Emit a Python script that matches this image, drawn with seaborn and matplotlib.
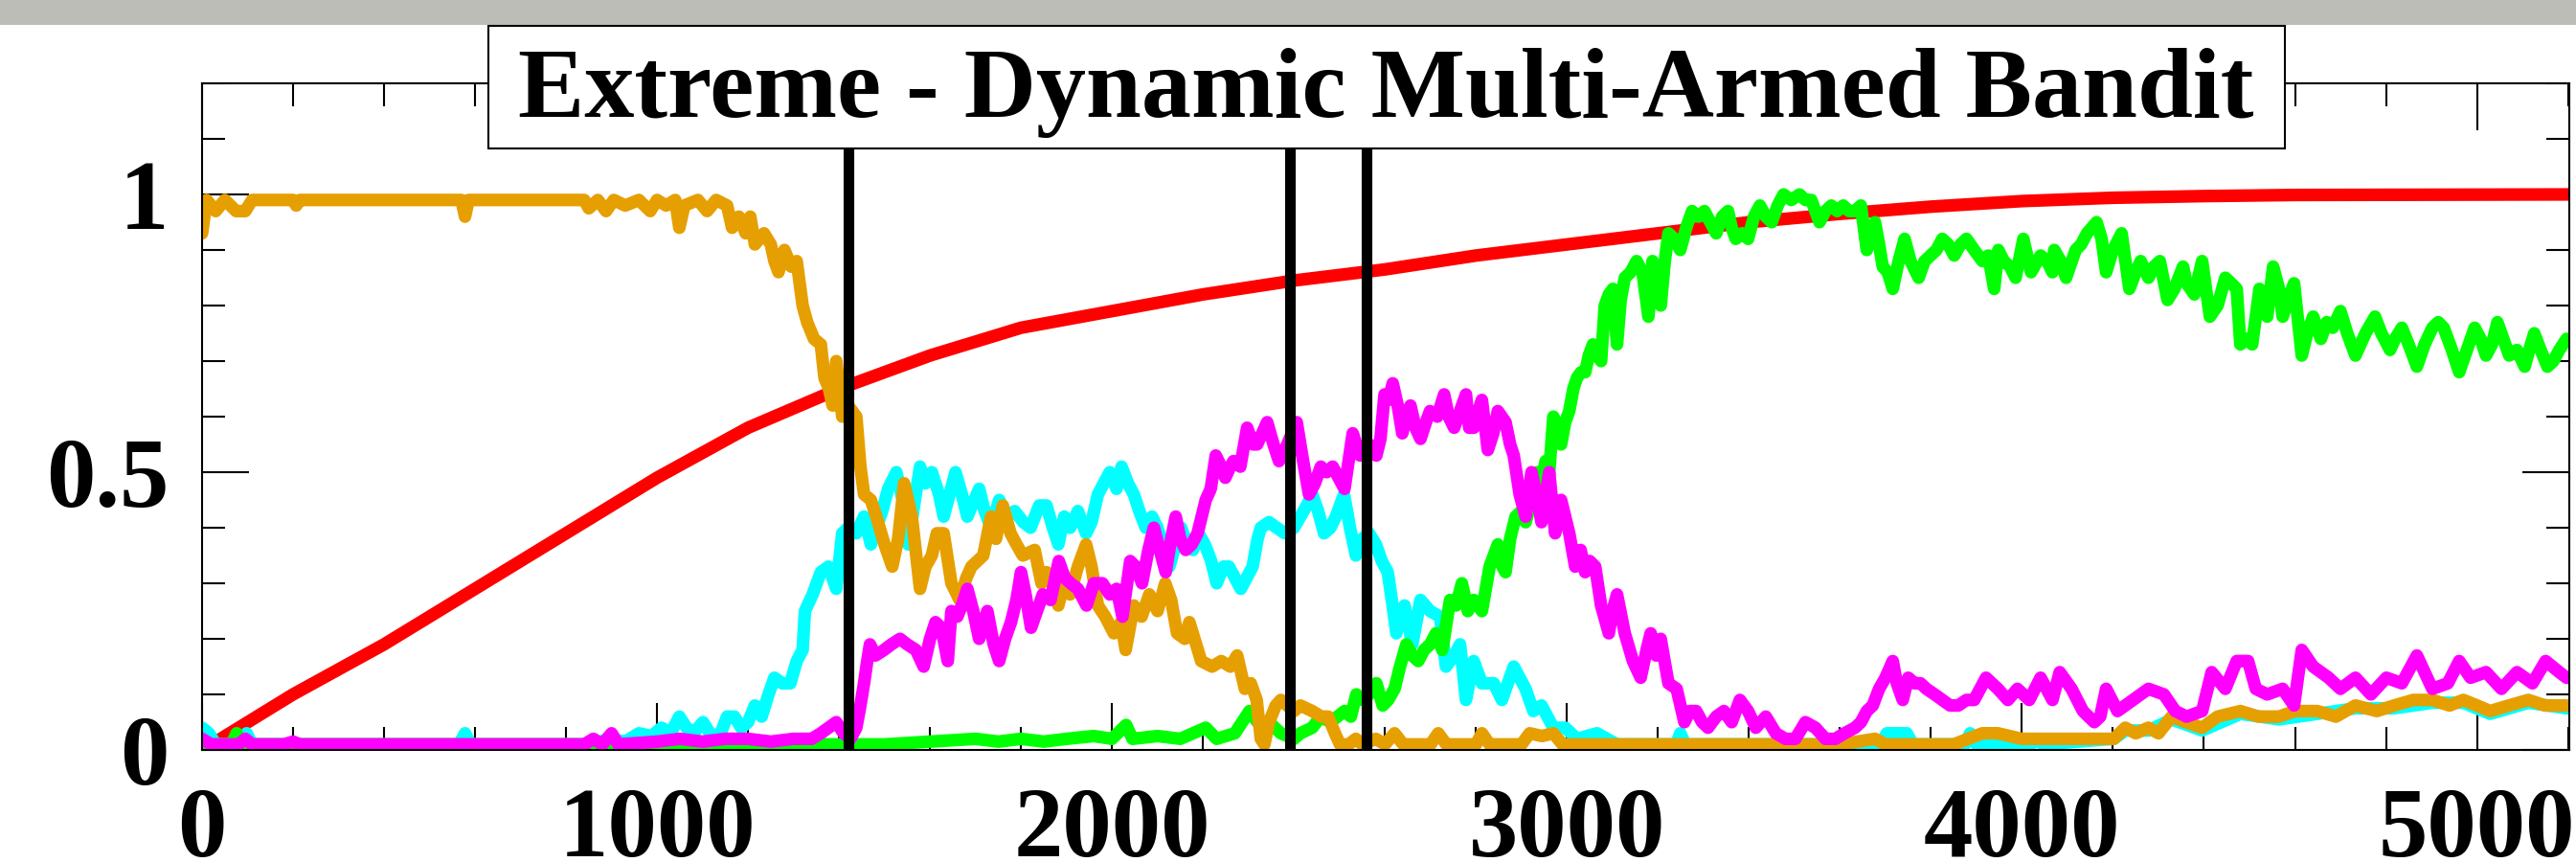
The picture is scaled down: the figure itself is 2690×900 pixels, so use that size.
import matplotlib
matplotlib.use("Agg")
import matplotlib.pyplot as plt
from matplotlib.patches import Rectangle
from matplotlib.ticker import MultipleLocator, FixedLocator, FixedFormatter
import pandas as pd
import seaborn as sns

# ---- values (step, value) ----
change_points = [1420, 2390, 2560]

red_pts = [(25, 0.012), (200, 0.10), (400, 0.19), (600, 0.29), (800, 0.39), (1000, 0.49),
           (1200, 0.58), (1400, 0.65), (1600, 0.71), (1800, 0.76), (2000, 0.79), (2200, 0.82),
           (2400, 0.845), (2600, 0.865), (2800, 0.89), (3000, 0.91), (3200, 0.93), (3400, 0.95),
           (3600, 0.965), (3800, 0.978), (4000, 0.988), (4200, 0.994), (4400, 0.997),
           (4600, 0.999), (5200, 1.0)]

orange_pts = [(0, 0.93), (10, 0.99), (30, 0.97), (50, 0.99), (75, 0.97), (95, 0.97), (110, 0.99),
              (200, 0.99), (207, 0.98), (215, 0.99), (570, 0.99), (578, 0.96), (586, 0.99),
              (840, 0.99), (850, 0.975), (870, 0.99), (888, 0.97), (905, 0.99), (930, 0.98),
              (960, 0.99), (985, 0.97), (1000, 0.99), (1020, 0.98), (1040, 0.99), (1049, 0.94),
              (1060, 0.98), (1090, 0.99), (1110, 0.97), (1130, 0.99), (1154, 0.98), (1165, 0.94),
              (1180, 0.96), (1195, 0.93), (1205, 0.96), (1215, 0.91), (1235, 0.93), (1250, 0.91),
              (1258, 0.88), (1267, 0.86), (1280, 0.90), (1295, 0.87), (1307, 0.88), (1320, 0.80),
              (1330, 0.77), (1345, 0.74), (1360, 0.73), (1368, 0.67), (1378, 0.65), (1386, 0.62),
              (1394, 0.70), (1407, 0.60), (1420, 0.62), (1438, 0.60), (1447, 0.51), (1455, 0.46),
              (1470, 0.45), (1482, 0.42), (1500, 0.37), (1517, 0.33), (1530, 0.38), (1543, 0.48),
              (1560, 0.42), (1578, 0.29), (1590, 0.33), (1604, 0.35), (1615, 0.39), (1630, 0.39),
              (1647, 0.30), (1665, 0.27), (1680, 0.31), (1691, 0.33), (1717, 0.35), (1734, 0.42),
              (1745, 0.38), (1760, 0.44), (1777, 0.39), (1790, 0.37), (1804, 0.35), (1830, 0.36),
              (1845, 0.30), (1856, 0.32), (1870, 0.30), (1882, 0.26), (1895, 0.30), (1908, 0.28),
              (1925, 0.33), (1943, 0.37), (1955, 0.33), (1969, 0.26), (1985, 0.24), (2004, 0.21),
              (2020, 0.23), (2030, 0.18), (2048, 0.26), (2065, 0.24), (2082, 0.28), (2100, 0.25),
              (2117, 0.30), (2130, 0.27), (2143, 0.21), (2160, 0.20), (2170, 0.23), (2185, 0.19),
              (2196, 0.16), (2220, 0.15), (2240, 0.16), (2260, 0.15), (2275, 0.17), (2292, 0.11),
              (2305, 0.12), (2318, 0.09), (2327, 0.02), (2335, 0.01), (2345, 0.05), (2360, 0.08),
              (2371, 0.09), (2385, 0.08), (2400, 0.07), (2414, 0.08), (2440, 0.07), (2460, 0.06),
              (2475, 0.06), (2490, 0.03), (2501, 0.01), (2520, 0.01), (2536, 0.02), (2550, 0.01),
              (2580, 0.02), (2600, 0.01), (2621, 0.03), (2640, 0.01), (2700, 0.01), (2717, 0.03),
              (2735, 0.01), (2800, 0.01), (2813, 0.03), (2830, 0.01), (2900, 0.01), (2918, 0.03),
              (2945, 0.025), (2970, 0.03), (2990, 0.01), (3600, 0.01), (3677, 0.02), (3700, 0.01),
              (3850, 0.01), (3913, 0.03), (3947, 0.03), (3999, 0.02), (4100, 0.02), (4202, 0.02),
              (4227, 0.04), (4250, 0.03), (4278, 0.04), (4300, 0.03), (4329, 0.06), (4360, 0.05),
              (4396, 0.04), (4430, 0.06), (4480, 0.07), (4520, 0.06), (4565, 0.06), (4600, 0.07),
              (4649, 0.07), (4690, 0.06), (4733, 0.08), (4780, 0.07), (4818, 0.08), (4860, 0.09),
              (4902, 0.09), (4940, 0.08), (4970, 0.09), (5000, 0.08), (5029, 0.07), (5070, 0.08),
              (5113, 0.09), (5150, 0.08), (5197, 0.08)]

cyan_pts = [(0, 0.04), (15, 0.03), (30, 0.01), (85, 0.01), (98, 0.03), (110, 0.01), (565, 0.01),
            (578, 0.03), (590, 0.01), (860, 0.01), (892, 0.02), (930, 0.015), (960, 0.03),
            (988, 0.025), (1010, 0.04), (1030, 0.03), (1049, 0.06), (1065, 0.04), (1080, 0.03),
            (1101, 0.05), (1120, 0.025), (1140, 0.03), (1154, 0.06), (1170, 0.06), (1185, 0.04),
            (1200, 0.05), (1215, 0.08), (1230, 0.06), (1245, 0.10), (1258, 0.13), (1275, 0.12),
            (1293, 0.12), (1307, 0.16), (1320, 0.18), (1325, 0.25), (1342, 0.28), (1360, 0.32),
            (1377, 0.33), (1394, 0.29), (1407, 0.39), (1420, 0.40), (1438, 0.39), (1455, 0.42),
            (1470, 0.37), (1482, 0.40), (1495, 0.43), (1508, 0.47), (1526, 0.50), (1540, 0.45),
            (1552, 0.37), (1565, 0.44), (1578, 0.51), (1590, 0.48), (1604, 0.50), (1620, 0.46),
            (1630, 0.42), (1656, 0.50), (1670, 0.46), (1682, 0.42), (1708, 0.47), (1720, 0.43),
            (1734, 0.40), (1752, 0.45), (1770, 0.42), (1786, 0.43), (1805, 0.41), (1821, 0.40),
            (1840, 0.44), (1856, 0.44), (1870, 0.40), (1882, 0.37), (1895, 0.42), (1908, 0.40),
            (1925, 0.43), (1943, 0.39), (1955, 0.41), (1969, 0.46), (1995, 0.50), (2010, 0.47),
            (2021, 0.51), (2035, 0.48), (2048, 0.46), (2060, 0.43), (2074, 0.40), (2088, 0.42),
            (2100, 0.40), (2115, 0.36), (2126, 0.33), (2140, 0.37), (2152, 0.40), (2165, 0.37),
            (2178, 0.36), (2190, 0.39), (2204, 0.37), (2218, 0.34), (2230, 0.30), (2245, 0.33),
            (2257, 0.33), (2270, 0.31), (2283, 0.29), (2296, 0.31), (2309, 0.33), (2320, 0.38),
            (2327, 0.40), (2345, 0.41), (2362, 0.40), (2380, 0.39), (2400, 0.40), (2414, 0.42),
            (2428, 0.44), (2440, 0.46), (2453, 0.43), (2466, 0.39), (2480, 0.40), (2492, 0.42),
            (2510, 0.46), (2523, 0.40), (2536, 0.35), (2550, 0.38), (2565, 0.39), (2580, 0.37),
            (2593, 0.34), (2606, 0.32), (2615, 0.27), (2625, 0.21), (2635, 0.25), (2643, 0.26),
            (2660, 0.19), (2678, 0.27), (2699, 0.25), (2721, 0.24), (2734, 0.15), (2752, 0.17),
            (2765, 0.19), (2778, 0.09), (2795, 0.16), (2813, 0.12), (2839, 0.12), (2857, 0.09),
            (2883, 0.15), (2909, 0.11), (2926, 0.07), (2944, 0.08), (2970, 0.04), (2996, 0.04),
            (3022, 0.02), (3066, 0.03), (3110, 0.01), (3240, 0.01), (3249, 0.03), (3260, 0.01),
            (3690, 0.01), (3703, 0.03), (3725, 0.03), (3747, 0.03), (3760, 0.01), (3875, 0.01),
            (3886, 0.03), (3900, 0.01), (4020, 0.01), (4032, 0.02), (4045, 0.01), (4202, 0.02),
            (4227, 0.035), (4278, 0.035), (4329, 0.055), (4396, 0.035), (4480, 0.065),
            (4565, 0.055), (4649, 0.065), (4733, 0.075), (4818, 0.075), (4902, 0.085),
            (4970, 0.085), (5029, 0.065), (5113, 0.085), (5197, 0.075)]

magenta_pts = [(0, 0.02), (20, 0.01), (80, 0.01), (95, 0.02), (110, 0.01), (180, 0.01), (200, 0.015),
               (215, 0.01), (840, 0.01), (860, 0.02), (880, 0.01), (900, 0.03), (915, 0.01),
               (1000, 0.015), (1050, 0.02), (1100, 0.015), (1150, 0.02), (1200, 0.02), (1250, 0.015),
               (1300, 0.02), (1340, 0.02), (1360, 0.03), (1377, 0.04), (1394, 0.05), (1410, 0.03),
               (1425, 0.02), (1438, 0.04), (1447, 0.08), (1455, 0.12), (1462, 0.16), (1468, 0.19),
               (1480, 0.17), (1499, 0.18), (1515, 0.19), (1534, 0.20), (1550, 0.19), (1569, 0.18),
               (1586, 0.15), (1600, 0.20), (1612, 0.23), (1625, 0.22), (1639, 0.16), (1647, 0.25),
               (1660, 0.24), (1670, 0.26), (1682, 0.29), (1695, 0.25), (1708, 0.20), (1726, 0.25),
               (1740, 0.19), (1752, 0.16), (1765, 0.20), (1778, 0.23), (1790, 0.27), (1800, 0.32),
               (1810, 0.28), (1822, 0.22), (1835, 0.25), (1848, 0.28), (1865, 0.27), (1883, 0.34),
               (1896, 0.31), (1909, 0.30), (1925, 0.29), (1944, 0.26), (1960, 0.30), (1979, 0.30),
               (1995, 0.28), (2010, 0.29), (2023, 0.24), (2040, 0.34), (2052, 0.33), (2066, 0.30),
               (2080, 0.36), (2092, 0.40), (2105, 0.36), (2118, 0.32), (2130, 0.38), (2140, 0.42),
               (2150, 0.38), (2162, 0.36), (2175, 0.37), (2188, 0.39), (2200, 0.43), (2206, 0.45),
               (2217, 0.47), (2228, 0.53), (2240, 0.51), (2249, 0.49), (2260, 0.51), (2267, 0.52),
               (2282, 0.51), (2297, 0.58), (2310, 0.55), (2319, 0.55), (2330, 0.57), (2341, 0.59),
               (2355, 0.55), (2367, 0.52), (2380, 0.54), (2406, 0.59), (2420, 0.52), (2433, 0.46),
               (2446, 0.48), (2459, 0.51), (2472, 0.50), (2485, 0.51), (2498, 0.49), (2511, 0.47),
               (2520, 0.52), (2529, 0.57), (2545, 0.53), (2565, 0.55), (2581, 0.53), (2590, 0.56),
               (2599, 0.64), (2608, 0.63), (2617, 0.66), (2628, 0.62), (2638, 0.57), (2647, 0.60),
               (2656, 0.62), (2667, 0.58), (2678, 0.56), (2690, 0.59), (2699, 0.61), (2715, 0.60),
               (2730, 0.64), (2740, 0.60), (2752, 0.58), (2765, 0.61), (2778, 0.64), (2785, 0.58),
               (2795, 0.58), (2805, 0.61), (2813, 0.63), (2826, 0.54), (2838, 0.57), (2848, 0.61),
               (2865, 0.59), (2875, 0.55), (2883, 0.53), (2896, 0.46), (2909, 0.42), (2922, 0.50),
               (2935, 0.45), (2944, 0.41), (2961, 0.50), (2974, 0.39), (2987, 0.45), (3005, 0.39),
               (3018, 0.33), (3030, 0.36), (3040, 0.32), (3050, 0.34), (3062, 0.33), (3075, 0.26),
               (3092, 0.21), (3100, 0.25), (3110, 0.28), (3127, 0.21), (3145, 0.16), (3162, 0.13),
               (3175, 0.18), (3184, 0.21), (3196, 0.17), (3206, 0.20), (3223, 0.12), (3241, 0.11),
               (3258, 0.05), (3270, 0.07), (3284, 0.07), (3297, 0.05), (3310, 0.04), (3328, 0.06),
               (3345, 0.07), (3362, 0.05), (3380, 0.09), (3398, 0.07), (3415, 0.04), (3437, 0.06),
               (3459, 0.03), (3480, 0.02), (3502, 0.02), (3524, 0.05), (3546, 0.04), (3568, 0.02),
               (3590, 0.02), (3610, 0.03), (3633, 0.04), (3646, 0.05), (3659, 0.07), (3672, 0.08),
               (3686, 0.11), (3700, 0.13), (3716, 0.16), (3725, 0.12), (3738, 0.09), (3750, 0.13),
               (3764, 0.12), (3777, 0.12), (3790, 0.11), (3808, 0.10), (3825, 0.09), (3842, 0.08),
               (3860, 0.08), (3878, 0.09), (3895, 0.09), (3908, 0.11), (3921, 0.13), (3934, 0.12),
               (3947, 0.11), (3969, 0.09), (3990, 0.11), (4016, 0.09), (4041, 0.13), (4067, 0.09),
               (4083, 0.14), (4109, 0.11), (4134, 0.07), (4159, 0.05), (4172, 0.06), (4185, 0.11),
               (4210, 0.07), (4244, 0.09), (4278, 0.11), (4312, 0.10), (4337, 0.07), (4362, 0.06),
               (4396, 0.07), (4417, 0.14), (4447, 0.11), (4472, 0.16), (4497, 0.16), (4514, 0.11),
               (4539, 0.10), (4573, 0.11), (4598, 0.08), (4615, 0.18), (4640, 0.15), (4674, 0.13),
               (4700, 0.11), (4733, 0.13), (4767, 0.10), (4801, 0.13), (4835, 0.12), (4868, 0.17),
               (4902, 0.11), (4936, 0.12), (4961, 0.16), (4986, 0.13), (5020, 0.14), (5054, 0.11),
               (5088, 0.14), (5122, 0.12), (5151, 0.16), (5181, 0.14), (5197, 0.13)]

green_pts = [(0, 0.01), (65, 0.01), (76, 0.03), (90, 0.01), (1300, 0.01), (1420, 0.01), (1500, 0.01),
             (1600, 0.015), (1700, 0.02), (1750, 0.015), (1800, 0.02), (1850, 0.015), (1900, 0.02),
             (1960, 0.025), (2000, 0.02), (2031, 0.045), (2045, 0.02), (2100, 0.025), (2150, 0.02),
             (2206, 0.04), (2230, 0.02), (2270, 0.03), (2302, 0.07), (2320, 0.05), (2345, 0.05),
             (2371, 0.03), (2400, 0.02), (2414, 0.03), (2440, 0.04), (2459, 0.06), (2480, 0.05),
             (2511, 0.07), (2525, 0.06), (2537, 0.10), (2550, 0.09), (2565, 0.10), (2581, 0.12),
             (2595, 0.08), (2607, 0.09), (2621, 0.11), (2633, 0.15), (2647, 0.19), (2660, 0.17),
             (2673, 0.16), (2686, 0.18), (2699, 0.19), (2712, 0.21), (2726, 0.18), (2743, 0.27),
             (2756, 0.26), (2769, 0.30), (2782, 0.25), (2795, 0.27), (2813, 0.25), (2830, 0.33),
             (2848, 0.37), (2858, 0.33), (2865, 0.32), (2875, 0.38), (2887, 0.42), (2900, 0.43),
             (2909, 0.41), (2922, 0.45), (2935, 0.50), (2944, 0.48), (2953, 0.52), (2961, 0.50),
             (2970, 0.60), (2980, 0.58), (2987, 0.55), (2996, 0.59), (3005, 0.61), (3014, 0.65),
             (3022, 0.67), (3031, 0.68), (3040, 0.68), (3048, 0.71), (3057, 0.73), (3066, 0.71),
             (3075, 0.70), (3083, 0.80), (3092, 0.82), (3101, 0.83), (3110, 0.73), (3118, 0.81),
             (3127, 0.85), (3140, 0.86), (3153, 0.88), (3166, 0.86), (3179, 0.78), (3188, 0.88),
             (3197, 0.86), (3206, 0.80), (3215, 0.88), (3223, 0.93), (3236, 0.92), (3249, 0.90),
             (3262, 0.94), (3275, 0.97), (3289, 0.96), (3302, 0.97), (3315, 0.95), (3328, 0.93),
             (3341, 0.96), (3354, 0.97), (3362, 0.94), (3371, 0.92), (3385, 0.93), (3398, 0.92),
             (3411, 0.96), (3424, 0.98), (3437, 0.96), (3450, 0.95), (3463, 0.98), (3476, 1.00),
             (3493, 0.99), (3511, 1.00), (3524, 0.99), (3537, 0.99), (3546, 0.97), (3555, 0.95),
             (3568, 0.97), (3581, 0.98), (3594, 0.97), (3607, 0.98), (3620, 0.97), (3633, 0.97),
             (3646, 0.98), (3659, 0.90), (3668, 0.93), (3677, 0.95), (3686, 0.91), (3694, 0.87),
             (3705, 0.86), (3716, 0.83), (3729, 0.88), (3742, 0.92), (3755, 0.88), (3773, 0.85),
             (3786, 0.88), (3799, 0.89), (3812, 0.90), (3825, 0.92), (3838, 0.91), (3851, 0.89),
             (3865, 0.91), (3878, 0.92), (3895, 0.90), (3913, 0.88), (3926, 0.89), (3939, 0.83),
             (3948, 0.90), (3960, 0.88), (3974, 0.87), (3986, 0.85), (4003, 0.92), (4020, 0.86),
             (4041, 0.89), (4055, 0.88), (4067, 0.86), (4071, 0.90), (4085, 0.88), (4097, 0.85),
             (4118, 0.90), (4130, 0.91), (4143, 0.93), (4164, 0.95), (4175, 0.92), (4185, 0.86),
             (4200, 0.90), (4219, 0.93), (4236, 0.83), (4250, 0.86), (4261, 0.88), (4278, 0.85),
             (4290, 0.87), (4303, 0.88), (4320, 0.81), (4335, 0.83), (4354, 0.87), (4362, 0.84),
             (4379, 0.82), (4396, 0.88), (4413, 0.78), (4430, 0.80), (4447, 0.85), (4460, 0.84),
             (4472, 0.83), (4480, 0.73), (4495, 0.74), (4506, 0.73), (4522, 0.83), (4539, 0.78),
             (4552, 0.87), (4565, 0.83), (4573, 0.78), (4585, 0.81), (4598, 0.84), (4615, 0.71),
             (4627, 0.75), (4640, 0.78), (4657, 0.74), (4670, 0.77), (4683, 0.76), (4700, 0.79),
             (4715, 0.75), (4733, 0.71), (4755, 0.75), (4776, 0.78), (4790, 0.75), (4809, 0.72),
             (4820, 0.74), (4835, 0.76), (4850, 0.73), (4868, 0.69), (4885, 0.73), (4902, 0.76),
             (4915, 0.77), (4927, 0.76), (4945, 0.72), (4961, 0.68), (4978, 0.72), (4995, 0.76),
             (5008, 0.74), (5020, 0.71), (5033, 0.73), (5045, 0.77), (5058, 0.74), (5071, 0.71),
             (5088, 0.72), (5105, 0.69), (5115, 0.72), (5126, 0.75), (5140, 0.72), (5155, 0.69),
             (5168, 0.70), (5181, 0.72), (5197, 0.74)]

x_ticks = [0, 1000, 2000, 3000, 4000, 5000]
y_ticks = [0, 0.5, 1]
y_tick_labels = ["0", "0.5", "1"]
title = "Extreme - Dynamic Multi-Armed Bandit"

# drawing order: first listed ends up underneath
series = {"red": red_pts, "cyan": cyan_pts, "green": green_pts,
          "orange": orange_pts, "magenta": magenta_pts}
palette = {"red": "#FF0000", "cyan": "#00FFFF", "green": "#00FF00",
           "orange": "#E69F00", "magenta": "#FF00FF"}


def build_frame():
    frames = []
    for name, pts in series.items():
        df = pd.DataFrame(pts, columns=["step", "value"])
        df["arm"] = name
        frames.append(df)
    return pd.concat(frames, ignore_index=True)


def main():
    sns.set_style("ticks")
    plt.rcParams["font.family"] = ["Liberation Serif", "DejaVu Serif"]
    plt.rcParams["font.weight"] = "bold"
    plt.rcParams["text.color"] = "black"
    plt.rcParams["xtick.color"] = "black"
    plt.rcParams["ytick.color"] = "black"
    plt.rcParams["axes.edgecolor"] = "black"

    W, H = 2690, 900
    fig = plt.figure(figsize=(W / 100, H / 100), dpi=100)
    ax = fig.add_axes([211 / W, 1 - 783 / H, (2683 - 211) / W, (783 - 87) / H])

    data = build_frame()
    sns.lineplot(data=data, x="step", y="value", hue="arm", hue_order=list(series),
                 palette=palette, estimator=None, sort=False, linewidth=9.5,
                 legend=False, ax=ax)
    for line in ax.lines:
        line.set_linewidth(9.5)
        line.set_solid_capstyle("round")
        line.set_solid_joinstyle("round")

    for cp in change_points:
        ax.axvline(cp, color="black", linewidth=8, zorder=5)

    ax.set_xlim(0, 5203)
    ax.set_ylim(0, 1.2)
    ax.set_xlabel("")
    ax.set_ylabel("")

    ax.xaxis.set_major_locator(FixedLocator(x_ticks))
    ax.xaxis.set_minor_locator(MultipleLocator(200))
    ax.yaxis.set_major_locator(FixedLocator(y_ticks))
    ax.yaxis.set_major_formatter(FixedFormatter(y_tick_labels))
    ax.yaxis.set_minor_locator(MultipleLocator(0.1))

    ax.tick_params(which="both", direction="in", top=True, right=True,
                   width=1.5, color="black", labelcolor="black", labelsize=74)
    ax.tick_params(which="major", length=35)
    ax.tick_params(which="minor", length=17)
    ax.tick_params(axis="x", which="major", pad=28)
    ax.tick_params(axis="y", which="major", pad=25)
    for lab in ax.get_xticklabels() + ax.get_yticklabels():
        lab.set_fontweight("bold")
    for sp in ax.spines.values():
        sp.set_linewidth(1.5)
        sp.set_color("black")

    # grey strip along the top edge
    fig.patches.append(Rectangle((0, 1 - 26 / H), 1, 26 / H, transform=fig.transFigure,
                                 facecolor="#BBBDB6", edgecolor="none", zorder=4))
    # boxed title overlapping the top of the axes
    fig.patches.append(Rectangle((510 / W, 1 - 155 / H), (2386 - 510) / W, (155 - 27) / H,
                                 transform=fig.transFigure, facecolor="white",
                                 edgecolor="black", linewidth=1.5, zorder=5))
    fig.text(1447 / W, 1 - 122 / H, title, ha="center", va="baseline", color="black",
             fontsize=75, fontweight="bold", zorder=6)

    fig.savefig("out.png", dpi=100)
    plt.close(fig)


if __name__ == "__main__":
    main()
